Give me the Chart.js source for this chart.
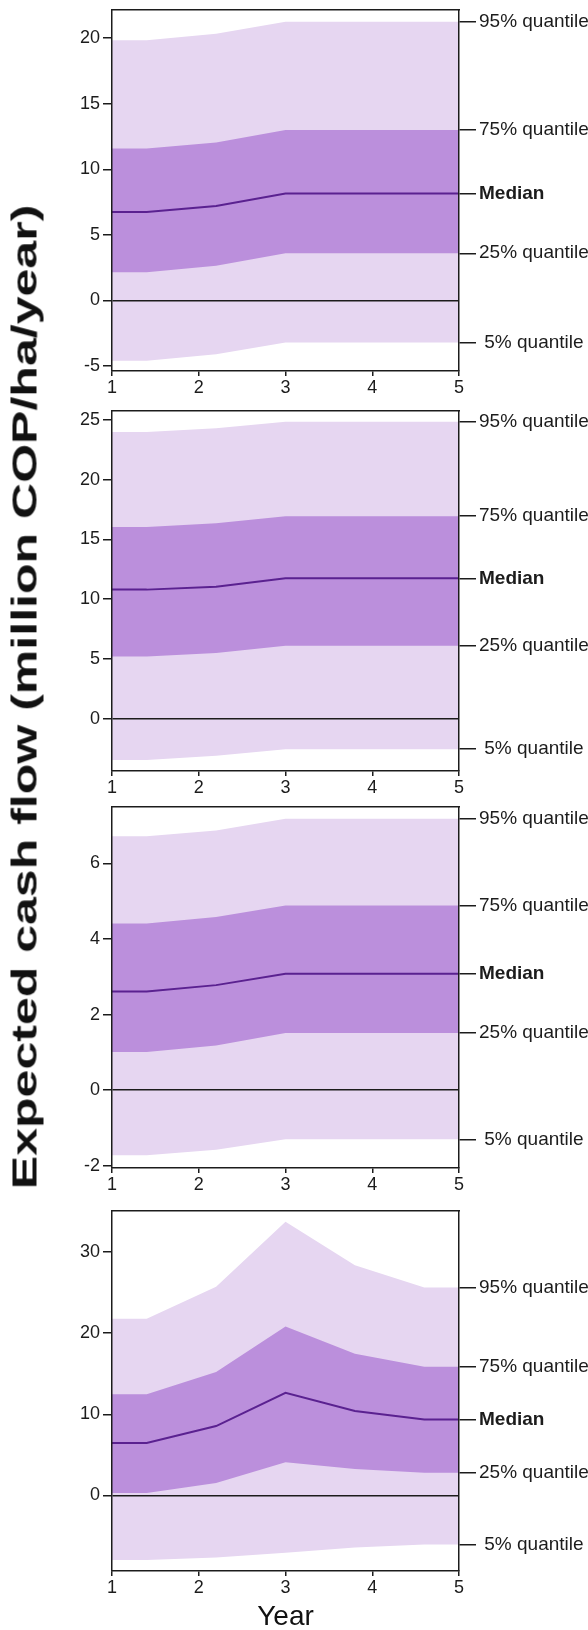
<!DOCTYPE html>
<html>
<head>
<meta charset="utf-8">
<script src="https://cdn.jsdelivr.net/npm/chart.js@4/dist/chart.umd.min.js"></script>
<style>
  html, body { margin: 0; padding: 0; background: #ffffff; }
  #wrap { position: relative; width: 588px; height: 1630px; overflow: hidden; background: #ffffff; }
  canvas { position: absolute; left: 0; }
  .ytitle {
    position: absolute; left: 24px; top: 697px;
    transform: translate(-50%, -50%) rotate(-90deg) scaleX(1.43);
    font: bold 35px "Liberation Sans", Arial, sans-serif; color: #111;
    white-space: nowrap; line-height: 35px;
  }
  .xtitle {
    position: absolute; left: 112px; width: 347px; top: 1602px; text-align: center;
    font: 28px "Liberation Sans", Arial, sans-serif; color: #111; line-height: 28px;
  }
</style>
</head>
<body>
<div id="wrap">
  <canvas id="c1"></canvas>
  <canvas id="c2"></canvas>
  <canvas id="c3"></canvas>
  <canvas id="c4"></canvas>
  <div class="ytitle">Expected cash flow (million COP/ha/year)</div>
  <div class="xtitle">Year</div>
</div>
<script>
// Years at which the quantile bands are evaluated
const years = [1, 1.4, 2.2, 3, 3.8, 4.6, 5];
const xTicks = [1, 2, 3, 4, 5];
const xTickLabels = ['1', '2', '3', '4', '5'];
const quantileNames = ['95% quantile', '75% quantile', 'Median', '25% quantile', ' 5% quantile'];

// Panel 1
const p1Q05 = [-4.6, -4.6, -4.1, -3.2, -3.2, -3.2, -3.2];
const p1Q25 = [2.15, 2.15, 2.65, 3.6, 3.6, 3.6, 3.6];
const p1Q50 = [6.75, 6.75, 7.2, 8.15, 8.15, 8.15, 8.15];
const p1Q75 = [11.6, 11.6, 12.05, 13.0, 13.0, 13.0, 13.0];
const p1Q95 = [19.85, 19.85, 20.35, 21.25, 21.25, 21.25, 21.25];
const p1Range = [-5.38, 22.2];
const p1Ticks = [-5, 0, 5, 10, 15, 20];

// Panel 2
const p2Q05 = [-3.45, -3.45, -3.1, -2.55, -2.55, -2.55, -2.55];
const p2Q25 = [5.2, 5.2, 5.5, 6.1, 6.1, 6.1, 6.1];
const p2Q50 = [10.8, 10.8, 11.05, 11.75, 11.75, 11.75, 11.75];
const p2Q75 = [16.05, 16.05, 16.35, 16.95, 16.95, 16.95, 16.95];
const p2Q95 = [24.0, 24.0, 24.3, 24.85, 24.85, 24.85, 24.85];
const p2Range = [-4.38, 25.8];
const p2Ticks = [0, 5, 10, 15, 20, 25];

// Panel 3
const p3Q05 = [-1.72, -1.72, -1.58, -1.3, -1.3, -1.3, -1.3];
const p3Q25 = [1.01, 1.01, 1.18, 1.51, 1.51, 1.51, 1.51];
const p3Q50 = [2.61, 2.61, 2.78, 3.08, 3.08, 3.08, 3.08];
const p3Q75 = [4.41, 4.41, 4.58, 4.89, 4.89, 4.89, 4.89];
const p3Q95 = [6.72, 6.72, 6.87, 7.18, 7.18, 7.18, 7.18];
const p3Range = [-2.06, 7.51];
const p3Ticks = [-2, 0, 2, 4, 6];

// Panel 4
const p4Q05 = [-7.95, -7.95, -7.65, -7.05, -6.4, -6.05, -6.05];
const p4Q25 = [0.3, 0.3, 1.55, 4.1, 3.25, 2.8, 2.8];
const p4Q50 = [6.45, 6.45, 8.55, 12.65, 10.4, 9.35, 9.35];
const p4Q75 = [12.45, 12.45, 15.2, 20.8, 17.45, 15.85, 15.85];
const p4Q95 = [21.75, 21.75, 25.7, 33.7, 28.35, 25.6, 25.6];
const p4Range = [-9.3, 35.1];
const p4Ticks = [0, 10, 20, 30];

const LIGHT = '#e6d6f1';
const DARK = '#bb8fdc';
const MEDIAN = '#5a2190';
const INK = '#1c1c1c';
const FONT = '"Liberation Sans", Arial, sans-serif';

const PAD_TOP = 12;
const X_AXIS_H = 32;

function pts(values) {
  return years.map((x, i) => ({ x: x, y: values[i] }));
}

function makePanel(id, q05, q25, q50, q75, q95, range, leftTicks, top, bottom) {
  const canvas = document.getElementById(id);
  const h = bottom - top + PAD_TOP + X_AXIS_H;
  canvas.width = 588;
  canvas.height = h;
  canvas.style.width = '588px';
  canvas.style.height = h + 'px';
  canvas.style.top = (top - PAD_TOP) + 'px';

  const last = a => a[a.length - 1];
  const rightTicks = [last(q95), last(q75), last(q50), last(q25), last(q05)];
  const hidden = { borderWidth: 0, borderColor: 'rgba(0,0,0,0)', pointRadius: 0 };

  new Chart(canvas, {
    type: 'line',
    data: {
      datasets: [
        { data: pts(q50), borderColor: MEDIAN, borderWidth: 2, pointRadius: 0, fill: false },
        Object.assign({ data: pts(q25), fill: false }, hidden),
        Object.assign({ data: pts(q75), fill: '-1', backgroundColor: DARK }, hidden),
        Object.assign({ data: pts(q05), fill: false }, hidden),
        Object.assign({ data: pts(q95), fill: '-1', backgroundColor: LIGHT }, hidden)
      ]
    },
    options: {
      responsive: false,
      animation: false,
      events: [],
      layout: { padding: { top: PAD_TOP, left: 0, right: 0, bottom: 0 } },
      plugins: { legend: { display: false }, tooltip: { enabled: false } },
      elements: { line: { tension: 0 } },
      scales: {
        x: {
          type: 'linear', position: 'bottom', min: 1, max: 5,
          afterBuildTicks: s => { s.ticks = xTicks.map(v => ({ value: v })); },
          afterFit: s => { s.height = X_AXIS_H; },
          ticks: {
            callback: (v, i) => xTickLabels[i],
            color: INK, font: { family: FONT, size: 18 }, padding: 1, maxRotation: 0, autoSkip: false
          },
          grid: { drawOnChartArea: false, drawTicks: true, tickLength: 5, tickColor: INK, lineWidth: 1.5 },
          border: { display: true, color: INK, width: 1.5, z: 1 }
        },
        xTop: {
          type: 'linear', position: 'top', min: 1, max: 5,
          afterFit: s => { s.height = 0; },
          ticks: { display: false },
          grid: { display: false, drawTicks: false },
          border: { display: true, color: INK, width: 1.5, z: 1 }
        },
        y: {
          type: 'linear', position: 'left', min: range[0], max: range[1],
          afterBuildTicks: s => { s.ticks = leftTicks.map(v => ({ value: v })); },
          afterFit: s => { s.width = 112; },
          ticks: { color: INK, font: { family: FONT, size: 18 }, padding: 3, autoSkip: false },
          grid: {
            z: 1,
            drawOnChartArea: true, drawTicks: true, tickLength: 9, tickColor: INK,
            color: ctx => (ctx.tick && ctx.tick.value === 0) ? INK : 'rgba(0,0,0,0)',
            lineWidth: 1.5
          },
          border: { display: true, color: INK, width: 1.5, z: 1 }
        },
        yRight: {
          type: 'linear', position: 'right', min: range[0], max: range[1],
          afterBuildTicks: s => { s.ticks = rightTicks.map(v => ({ value: v })); },
          afterFit: s => { s.width = 129; },
          ticks: {
            callback: (v, i) => quantileNames[i],
            color: INK, padding: 3, autoSkip: false,
            font: ctx => ({ family: FONT, size: 19, weight: ctx.index === 2 ? 'bold' : 'normal' })
          },
          grid: { drawOnChartArea: false, drawTicks: true, tickLength: 17, tickColor: INK, lineWidth: 1.5 },
          border: { display: true, color: INK, width: 1.5, z: 1 }
        }
      }
    }
  });
}

makePanel('c1', p1Q05, p1Q25, p1Q50, p1Q75, p1Q95, p1Range, p1Ticks, 7, 371);
makePanel('c2', p2Q05, p2Q25, p2Q50, p2Q75, p2Q95, p2Range, p2Ticks, 408, 771);
makePanel('c3', p3Q05, p3Q25, p3Q50, p3Q75, p3Q95, p3Range, p3Ticks, 804, 1168);
makePanel('c4', p4Q05, p4Q25, p4Q50, p4Q75, p4Q95, p4Range, p4Ticks, 1208, 1571);
</script>
</body>
</html>
